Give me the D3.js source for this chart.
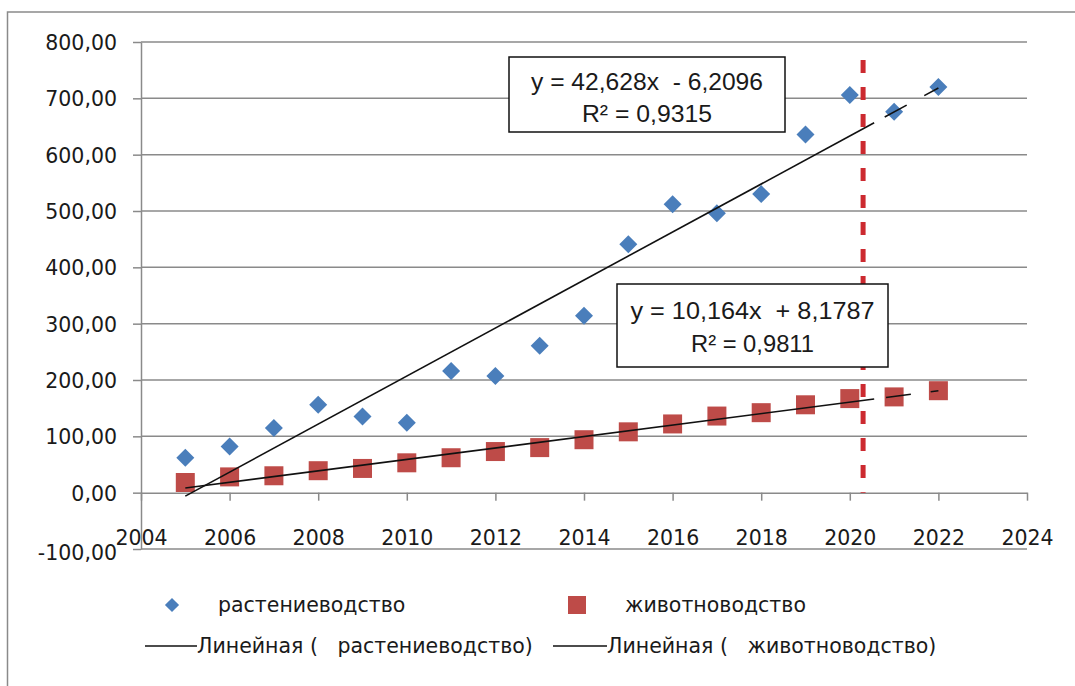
<!DOCTYPE html>
<html>
<head>
<meta charset="utf-8">
<script src="https://cdn.jsdelivr.net/npm/d3@7"></script>
<style>
  body { margin: 0; background: #fff; }
  text { font-family: "DejaVu Sans", sans-serif; fill: #1a1a1a; }
</style>
</head>
<body>
<svg id="chart" width="1075" height="686"></svg>
<script>
// Years on the horizontal axis
const years = [2005, 2006, 2007, 2008, 2009, 2010, 2011, 2012, 2013, 2014,
               2015, 2016, 2017, 2018, 2019, 2020, 2021, 2022];
// Crop production
const cropValues = [62, 82, 115, 156, 135, 124, 216, 207, 261, 314,
                    441, 512, 496, 530, 636, 706, 676, 720];
// Livestock production
const livestockValues = [18, 28, 30, 39, 43, 53, 62, 73, 80, 94,
                         108, 122, 136, 142, 156, 167, 170, 181];
const seriesNames = ["растениеводство", "животноводство"];
// Linear trend coefficients (x counted from the first year)
const trendSlopes = [42.628, 10.164];
const trendIntercepts = [-6.2096, 8.1787];
const trendEquations = ["y = 42,628x  - 6,2096", "y = 10,164x  + 8,1787"];
const trendR2 = ["R² = 0,9315", "R² = 0,9811"];
const trendLegend = ["Линейная (   растениеводство)", "Линейная (   животноводство)"];
const xTicks = [2004, 2006, 2008, 2010, 2012, 2014, 2016, 2018, 2020, 2022, 2024];
const yTicks = [-100, 0, 100, 200, 300, 400, 500, 600, 700, 800];
// Boundary between actual data and forecast
const forecastYear = 2020.3;
const forecastTop = 768;
// Where the trend lines switch to dashes
const trendSolidEnd = 2020.55;

const baseYear = years[0];
const svg = d3.select("#chart");
const x = d3.scaleLinear().domain([2004, 2024]).range([141, 1027]);
const y = d3.scaleLinear().domain([-100, 800]).range([549, 42]);

const locale = d3.formatLocale({ decimal: ",", thousands: " ", grouping: [3], currency: ["", ""], minus: "-" });
const fmt = locale.format(".2f");
const gridColor = "#8a8a8a";

// Outer chart frame
svg.append("rect").attr("x", 7.5).attr("y", 12).attr("width", 1100).attr("height", 700)
  .attr("fill", "none").attr("stroke", "#8a8a8a").attr("stroke-width", 1.5);

// Horizontal gridlines
svg.append("g").selectAll("line").data(yTicks.filter(d => d !== 0)).join("line")
  .attr("x1", x(2004)).attr("x2", x(2024))
  .attr("y1", d => y(d)).attr("y2", d => y(d))
  .attr("stroke", gridColor).attr("stroke-width", 1.5);

// Y axis
const yAxis = svg.append("g").attr("transform", `translate(${x(2004)},0)`)
  .call(d3.axisLeft(y).tickValues(yTicks).tickSize(8).tickSizeOuter(0).tickPadding(16).tickFormat(fmt));
yAxis.selectAll("path, line").attr("stroke", gridColor).attr("stroke-width", 1.5);
yAxis.selectAll("text").style("font-family", "DejaVu Sans, sans-serif").style("font-size", "20.5px")
  .attr("fill", "#1a1a1a").attr("dy", "0.36em");
yAxis.select(".tick:first-of-type text").attr("dy", "0.5em");

// X axis crossing at zero
const xAxis = svg.append("g").attr("transform", `translate(0,${y(0)})`)
  .call(d3.axisBottom(x).tickValues(xTicks).tickSize(8).tickSizeOuter(0).tickFormat(d3.format("d")));
xAxis.selectAll("path, line").attr("stroke", gridColor).attr("stroke-width", 1.5);
xAxis.selectAll("text").style("font-family", "DejaVu Sans, sans-serif").style("font-size", "20.5px")
  .attr("fill", "#1a1a1a").attr("y", 45).attr("dy", "0.36em");

// Scatter markers
const diamond = d3.symbol(d3.symbolSquare, 162);
const square = d3.symbol(d3.symbolSquare, 361);
svg.append("g").selectAll("path").data(years).join("path")
  .attr("d", diamond)
  .attr("transform", (d, i) => `translate(${x(d)},${y(cropValues[i])}) rotate(45)`)
  .attr("fill", "#4a7ebb");
svg.append("g").selectAll("path").data(years).join("path")
  .attr("d", square)
  .attr("transform", (d, i) => `translate(${x(d)},${y(livestockValues[i])})`)
  .attr("fill", "#be4b48");

// Trend lines: solid over the actual period, dashed over the forecast
const trendAt = (k, yr) => trendSlopes[k] * (yr - baseYear) + trendIntercepts[k];
const line = d3.line().x(d => x(d[0])).y(d => y(d[1]));
[0, 1].forEach(k => {
  const lastYear = years[years.length - 1];
  svg.append("path")
    .attr("d", line([[baseYear, trendAt(k, baseYear)], [trendSolidEnd, trendAt(k, trendSolidEnd)]]))
    .attr("fill", "none").attr("stroke", "#111").attr("stroke-width", 1.6);
  svg.append("path")
    .attr("d", line([[trendSolidEnd, trendAt(k, trendSolidEnd)], [lastYear, trendAt(k, lastYear)]]))
    .attr("fill", "none").attr("stroke", "#111").attr("stroke-width", 1.6)
    .attr("stroke-dasharray", "0,12,25,8");
});

// Forecast boundary
svg.append("line")
  .attr("x1", x(forecastYear)).attr("x2", x(forecastYear))
  .attr("y1", y(forecastTop)).attr("y2", y(0))
  .attr("stroke", "#cc2a30").attr("stroke-width", 5).attr("stroke-dasharray", "13,14");

// Trend equation boxes
const boxes = [
  { x0: 509, y0: 57, x1: 785, y1: 132, b1: 90, b2: 122, w1: 232, w2: 130 },
  { x0: 617, y0: 284, x1: 888, y1: 367, b1: 319, b2: 352, w1: 244, w2: 123 }
];
boxes.forEach((b, k) => {
  const g = svg.append("g");
  g.append("rect").attr("x", b.x0).attr("y", b.y0)
    .attr("width", b.x1 - b.x0).attr("height", b.y1 - b.y0)
    .attr("fill", "#fff").attr("stroke", "#111").attr("stroke-width", 1.5);
  const cx = (b.x0 + b.x1) / 2;
  [[trendEquations[k], b.b1, b.w1], [trendR2[k], b.b2, b.w2]].forEach(([t, by, w]) => {
    g.append("text").attr("x", cx).attr("y", by).attr("text-anchor", "middle")
      .attr("xml:space", "preserve").style("white-space", "pre")
      .style("font-family", "'Liberation Sans Narrow', 'Liberation Sans', Arial, sans-serif")
      .style("font-size", "24px")
      .attr("textLength", w).attr("lengthAdjust", "spacingAndGlyphs")
      .text(t);
  });
});

// Legend
const lg = svg.append("g").style("font-size", "20.5px");
lg.append("path").attr("d", d3.symbol(d3.symbolSquare, 100))
  .attr("transform", "translate(172,605) rotate(45)").attr("fill", "#4a7ebb");
lg.append("text").attr("x", 218).attr("y", 605).attr("dy", "0.32em").text(seriesNames[0]);
lg.append("rect").attr("x", 568).attr("y", 596).attr("width", 18).attr("height", 18).attr("fill", "#be4b48");
lg.append("text").attr("x", 625).attr("y", 605).attr("dy", "0.32em").text(seriesNames[1]);

[[145, 197], [553, 607]].forEach(([a, b], k) => {
  lg.append("line").attr("x1", a).attr("x2", b).attr("y1", 646).attr("y2", 646)
    .attr("stroke", "#111").attr("stroke-width", 1.6);
  lg.append("text").attr("x", b).attr("y", 646).attr("dy", "0.32em")
    .attr("xml:space", "preserve").style("white-space", "pre").text(trendLegend[k]);
});
</script>
</body>
</html>
